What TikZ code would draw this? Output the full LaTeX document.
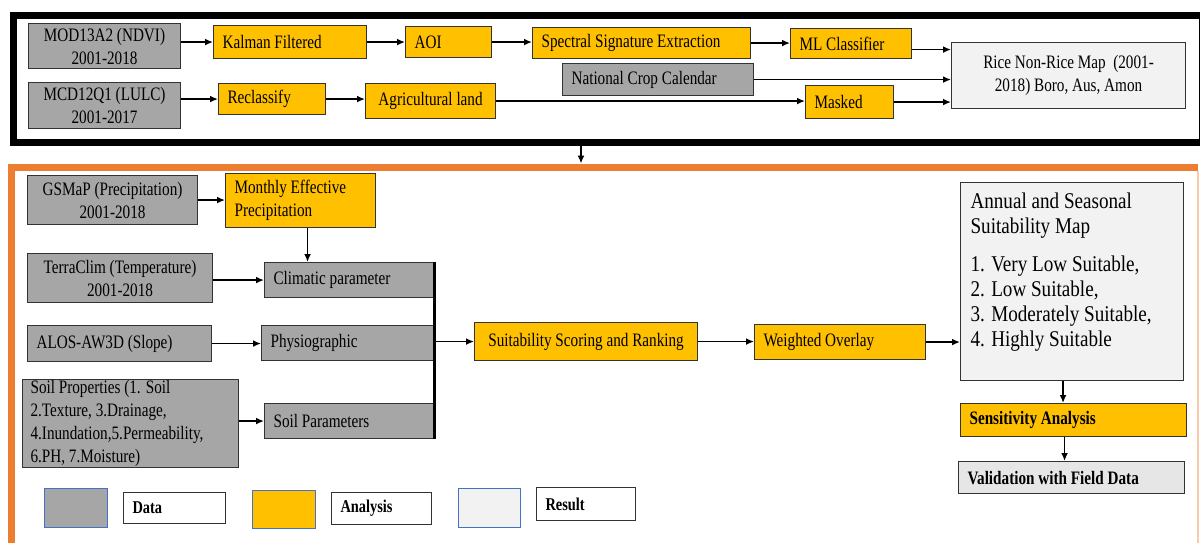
\documentclass[tikz,border=0pt]{standalone}
\usepackage{fontspec}
\setmainfont{Liberation Serif}
\newfontfamily\boxfont[FakeStretch=0.8]{Liberation Serif}
\newfontfamily\mapfont[FakeStretch=0.85]{Liberation Serif}
\usetikzlibrary{arrows.meta}
\definecolor{datagray}{HTML}{A6A6A6}
\definecolor{anaorange}{HTML}{FFC000}
\definecolor{resgray}{HTML}{F2F2F2}
\definecolor{valgray}{HTML}{E7E6E6}
\definecolor{frameorange}{HTML}{ED7D31}
\definecolor{framepeach}{HTML}{F8CBAD}
\definecolor{keyblue}{HTML}{4472C4}

\begin{document}
\begin{tikzpicture}[x=1pt, y=-1pt,
        >={Latex[length=8pt,width=7pt]},
        box/.style={draw=black!80, line width=1.1pt, anchor=north west, align=flush left,
                    inner xsep=9pt, inner ysep=1pt,
                    font=\boxfont\fontsize{19}{23}\selectfont},
        data/.style={box, fill=datagray},
        ana/.style={box, fill=anaorange},
        res/.style={box, fill=resgray},
        key/.style={draw=keyblue, line width=1pt, anchor=north west, inner sep=0pt},
        keylbl/.style={box, fill=white, font=\boxfont\bfseries\fontsize{18}{22}\selectfont},
        arr/.style={->, line width=1.8pt},
    ]
    \useasboundingbox (0,0) rectangle (1200,543);

    % ---- Stage frames ----
    \node[draw=black, line width=7.5pt, anchor=north west, inner sep=0pt,
          minimum width=1189.5pt, minimum height=126.5pt] (stage1) at (9.5,12) {};
    \draw[frameorange, line width=7pt] (11.5,560) -- (11.5,167) -- (1198,167);
    \draw[framepeach, line width=1.5pt] (1198,170.5) -- (1198,560);
    \coordinate (stage2) at (581,163.5);

    % ---- Rice / non-rice mapping ----
    \node[data, align=center, minimum width=152pt, minimum height=45pt] (mod) at (28,23)
        {MOD13A2 (NDVI)\\2001-2018};
    \node[ana, text width=135pt, minimum height=33pt] (kalman) at (213,25) {Kalman Filtered};
    \node[ana, text width=68pt, minimum height=31pt] (aoi) at (405,26) {AOI};
    \node[ana, text width=200pt, minimum height=31pt] (spectral) at (532,27)
        {Spectral Signature Extraction};
    \node[ana, text width=103pt, minimum height=30pt] (mlc) at (790,28) {ML Classifier};
    \node[res, align=center, minimum width=234pt, minimum height=66pt] (rice) at (951,42)
        {Rice Non-Rice Map~ (2001-\\2018) Boro, Aus, Amon};
    \node[data, text width=173pt, minimum height=32pt] (calendar) at (562,63)
        {National Crop Calendar};

    \node[data, align=center, minimum width=152pt, minimum height=46pt] (mcd) at (28,82)
        {MCD12Q1 (LULC)\\2001-2017};
    \node[ana, text width=89pt, minimum height=31pt] (reclass) at (218,83) {Reclassify};
    \node[ana, minimum width=130pt, minimum height=35pt] (agri) at (365,83) {Agricultural land};
    \node[ana, text width=70pt, minimum height=33pt] (masked) at (805,85) {Masked};

    \draw[arr] (mod.east |- kalman.west) -- (kalman.west);
    \draw[arr] (kalman.east) -- (kalman.east -| aoi.west);
    \draw[arr] (aoi.east) -- (aoi.east -| spectral.west);
    \draw[arr] (spectral.east) -- (spectral.east -| mlc.west);
    \draw[arr] ([yshift=-6pt]mlc.east) -- ([yshift=-6pt]mlc.east -| rice.west);
    \draw[arr] (calendar.east) -- (calendar.east -| rice.west);
    \draw[arr] (mcd.east |- reclass.west) -- (reclass.west);
    \draw[arr] (reclass.east) -- (reclass.east -| agri.west);
    \draw[arr] (agri.east) -- (agri.east -| masked.west);
    \draw[arr] (masked.east) -- (masked.east -| rice.west);

    \draw[arr] (stage1.south -| stage2) -- (stage2);

    % ---- Suitability analysis ----
    \node[data, align=center, minimum width=170pt, minimum height=49pt] (gsmap) at (27,175)
        {GSMaP (Precipitation)\\2001-2018};
    \node[ana, text width=132pt, minimum height=54pt] (effprec) at (225,173)
        {Monthly Effective\\Precipitation};
    \node[data, align=center, minimum width=185pt, minimum height=49pt] (terra) at (27,253)
        {TerraClim (Temperature)\\2001-2018};
    \node[data, text width=151pt, minimum height=35pt] (climatic) at (264,262)
        {Climatic parameter};
    \node[data, text width=166pt, minimum height=36pt] (alos) at (27,325)
        {ALOS-AW3D (Slope)};
    \node[data, text width=154pt, minimum height=35pt] (physio) at (261,325) {Physiographic};
    \node[data, text width=200pt, inner xsep=8pt, minimum height=87pt] (soil) at (22,379)
        {Soil Properties (1. Soil\\2.Texture, 3.Drainage,\\4.Inundation,5.Permeability,\\6.PH, 7.Moisture)};
    \node[data, text width=151pt, minimum height=35pt] (soilpar) at (264,403)
        {Soil Parameters};

    \node[ana, minimum width=223pt, minimum height=38pt] (scoring) at (474,322)
        {Suitability Scoring and Ranking};
    \node[ana, text width=153pt, minimum height=35pt] (overlay) at (754,324) {Weighted Overlay};
    \node[res, inner xsep=10pt, inner ysep=0pt, font=\mapfont\fontsize{22.5}{25}\selectfont]
        (suitmap) at (960,182)
        {\parbox[c][198pt][t]{203pt}{\raggedright\vspace*{10pt}Annual and Seasonal\\
         Suitability Map\\[13pt]
         1. Very Low Suitable,\\ 2. Low Suitable,\\ 3. Moderately Suitable,\\ 4. Highly Suitable}};
    \node[ana, text width=208pt, minimum height=33pt,
          font=\boxfont\bfseries\fontsize{19}{23}\selectfont] (sensitivity) at (960,403)
        {Sensitivity Analysis};
    \node[box, fill=valgray, text width=208pt, minimum height=32pt,
          font=\boxfont\bfseries\fontsize{19}{23}\selectfont] (validation) at (958,461)
        {Validation with Field Data};

    \draw[arr] (gsmap.east) -- (gsmap.east -| effprec.west);
    \draw[arr] ([xshift=7pt]effprec.south) -- ([xshift=7pt]effprec.south |- climatic.north);
    \draw[arr] (terra.east |- climatic.west) -- (climatic.west);
    \draw[arr] (alos.east) -- (alos.east -| physio.west);
    \draw[arr] (soil.east |- soilpar.west) -- (soilpar.west);
    \draw[line width=3pt] (climatic.north east) -- (soilpar.south east);
    \draw[arr] (physio.east |- scoring.west) -- (scoring.west);
    \draw[arr] (scoring.east) -- (scoring.east -| overlay.west);
    \draw[arr] (overlay.east) -- (overlay.east -| suitmap.west);
    \draw[arr] ([xshift=-9pt]suitmap.south) -- ([xshift=-9pt]suitmap.south |- sensitivity.north);
    \draw[arr] ([xshift=-9pt]sensitivity.south) -- ([xshift=-9pt]sensitivity.south |- validation.north);

    % ---- Legend ----
    \node[key, fill=datagray, minimum width=63pt, minimum height=39pt] (keydata) at (44,488) {};
    \node[keylbl, text width=84pt, minimum height=31pt] (lbldata) at (123,492) {Data};
    \node[key, fill=anaorange, minimum width=63pt, minimum height=38pt] (keyana) at (252,490) {};
    \node[keylbl, text width=82pt, minimum height=32pt] (lblana) at (331,492) {Analysis};
    \node[key, fill=resgray, minimum width=62pt, minimum height=39pt] (keyres) at (458,488) {};
    \node[keylbl, text width=81pt, minimum height=33pt] (lblres) at (536,487) {Result};

\end{tikzpicture}
\end{document}
